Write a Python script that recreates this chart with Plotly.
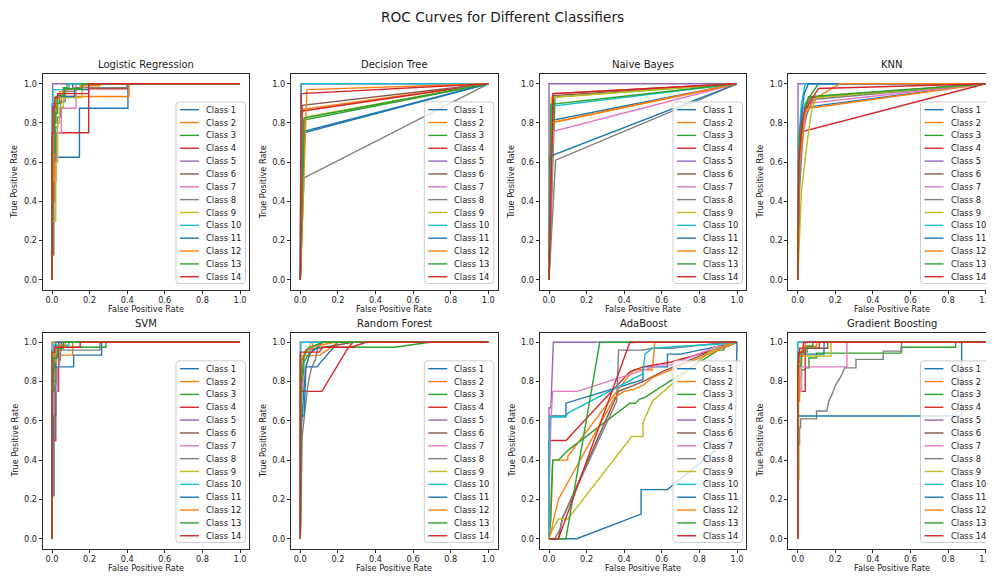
import plotly.graph_objects as go

# ---------------- data ----------------
CLASSIFIERS = ["Logistic Regression", "Decision Tree", "Naive Bayes", "KNN",
               "SVM", "Random Forest", "AdaBoost", "Gradient Boosting"]
CLASS_LABELS = [f"Class {i}" for i in range(1, 15)]
TICK_VALUES = [0.0, 0.2, 0.4, 0.6, 0.8, 1.0]
TICK_LABELS = ["0.0", "0.2", "0.4", "0.6", "0.8", "1.0"]

lr_fpr = [
    [0, 0, 0.005, 0.005, 0.146, 0.146, 0.404, 0.404, 1],
    [0, 0, 0.01, 0.01, 0.02, 0.02, 0.05, 0.05, 0.41, 0.41, 1],
    [0, 0, 0.01, 0.01, 0.02, 0.02, 0.04, 0.04, 0.06, 0.06, 0.08, 0.08, 1],
    [0, 0, 0.005, 0.005, 0.02, 0.02, 0.195, 0.195, 0.4, 0.4, 1],
    [0, 0, 0.003, 0.003, 1],
    [0, 0, 0.01, 0.01, 0.02, 0.02, 0.04, 0.04, 0.07, 0.07, 0.11, 0.11, 1],
    [0, 0, 0.02, 0.02, 0.05, 0.05, 0.128, 0.128, 1],
    [0, 0, 0.01, 0.01, 0.015, 0.015, 0.02, 0.02, 0.03, 0.03, 0.045, 0.045, 0.07, 0.07, 0.12, 0.12, 0.4, 0.4, 1],
    [0, 0, 0.02, 0.02, 0.03, 0.03, 0.04, 0.04, 0.06, 0.06, 0.16, 0.16, 1],
    [0, 0, 0.005, 0.005, 0.09, 0.09, 1],
    [0, 0, 0.01, 0.01, 0.02, 0.02, 0.12, 0.12, 0.195, 0.195, 1],
    [0, 0, 0.01, 0.01, 0.02, 0.02, 0.04, 0.04, 0.08, 0.08, 0.15, 0.15, 0.255, 0.255, 1],
    [0, 0, 0.015, 0.015, 0.03, 0.03, 0.065, 0.065, 0.16, 0.16, 1],
    [0, 0, 0.005, 0.005, 0.015, 0.015, 0.03, 0.03, 0.195, 0.195, 1],
]
lr_tpr = [
    [0, 0.125, 0.125, 0.625, 0.625, 0.875, 0.875, 1, 1],
    [0, 0.4, 0.4, 0.8, 0.8, 0.9, 0.9, 0.935, 0.935, 1, 1],
    [0, 0.6, 0.6, 0.8, 0.8, 0.9, 0.9, 0.95, 0.95, 0.98, 0.98, 1, 1],
    [0, 0.125, 0.125, 0.5, 0.5, 0.75, 0.75, 0.975, 0.975, 1, 1],
    [0, 0.875, 0.875, 1, 1],
    [0, 0.7, 0.7, 0.87, 0.87, 0.93, 0.93, 0.95, 0.95, 0.97, 0.97, 1, 1],
    [0, 0.625, 0.625, 0.75, 0.75, 0.875, 0.875, 1, 1],
    [0, 0.13, 0.13, 0.4, 0.4, 0.6, 0.6, 0.78, 0.78, 0.83, 0.83, 0.91, 0.91, 0.96, 0.96, 0.98, 0.98, 1, 1],
    [0, 0.3, 0.3, 0.6, 0.6, 0.8, 0.8, 0.88, 0.88, 0.93, 0.93, 1, 1],
    [0, 0.9, 0.9, 0.97, 0.97, 1, 1],
    [0, 0.6, 0.6, 0.9, 0.9, 0.935, 0.935, 0.97, 0.97, 1, 1],
    [0, 0.5, 0.5, 0.85, 0.85, 0.93, 0.93, 0.96, 0.96, 0.975, 0.975, 0.99, 0.99, 1, 1],
    [0, 0.65, 0.65, 0.85, 0.85, 0.94, 0.94, 0.975, 0.975, 1, 1],
    [0, 0.75, 0.75, 0.88, 0.88, 0.93, 0.93, 0.95, 0.95, 1, 1],
]

# Decision Tree / Naive Bayes: single operating point per class
dt_fpr_mid = [0.018, 0.012, 0.018, 0.005, 0.003, 0.01, 0.004, 0.02, 0.027, 0.005, 0.02, 0.035, 0.02, 0.005]
dt_tpr_mid = [0.75, 0.87, 0.815, 0.86, 1.0, 0.89, 1.0, 0.52, 0.83, 1.0, 0.757, 0.97, 0.825, 0.95]
nb_fpr_mid = [0.023, 0.023, 0.032, 0.023, 0.0, 0.02, 0.023, 0.035, 0.012, 0.01, 0.005, 0.01, 0.01, 0.022]
nb_tpr_mid = [0.815, 0.805, 0.932, 0.95, 1.0, 0.94, 0.757, 0.61, 0.93, 0.885, 0.63, 0.80, 0.895, 0.95]

knn_fpr = [
    [0, 0.005, 0.021, 0.12, 1],
    [0, 0.01, 0.04, 0.1, 1],
    [0, 0.01, 0.04, 0.11, 1],
    [0, 0.005, 0.03, 1],
    [0, 0.002, 1],
    [0, 0.01, 0.04, 0.07, 1],
    [0, 0.005, 0.03, 0.06, 1],
    [0, 0.01, 0.03, 0.08, 1],
    [0, 0.02, 0.05, 0.075, 0.1, 1],
    [0, 0.005, 0.02, 0.04, 1],
    [0, 0.01, 0.035, 0.057, 1],
    [0, 0.01, 0.04, 0.1, 0.225, 1],
    [0, 0.01, 0.057, 1],
    [0, 0.005, 0.03, 0.11, 1],
]
knn_tpr = [
    [0, 0.5, 0.875, 0.89, 1],
    [0, 0.6, 0.875, 0.88, 1],
    [0, 0.7, 0.9, 1, 1],
    [0, 0.5, 0.757, 1],
    [0, 1, 1],
    [0, 0.7, 0.88, 0.93, 1],
    [0, 0.5, 0.75, 0.9, 1],
    [0, 0.45, 0.8, 0.92, 1],
    [0, 0.45, 0.7, 0.87, 0.93, 1],
    [0, 0.7, 0.9, 1, 1],
    [0, 0.75, 0.95, 1, 1],
    [0, 0.6, 0.85, 0.93, 1, 1],
    [0, 0.75, 0.934, 1],
    [0, 0.6, 0.85, 0.976, 1],
]

svm_fpr = [
    [0, 0, 0.01, 0.01, 0.02, 0.02, 0.115, 0.115, 0.264, 0.264, 1],
    [0, 0, 0.01, 0.01, 0.11, 0.11, 1],
    [0, 0, 0.01, 0.01, 0.02, 0.02, 0.287, 0.287, 1],
    [0, 0, 0.02, 0.02, 0.035, 0.035, 1],
    [0, 0, 1],
    [0, 0, 0.02, 0.02, 0.04, 0.04, 0.05, 0.05, 1],
    [0, 0, 0.03, 0.03, 0.04, 0.04, 1],
    [0, 0, 0.01, 0.01, 0.015, 0.015, 0.02, 0.02, 0.035, 0.035, 0.045, 0.045, 0.255, 0.255, 1],
    [0, 0, 0.005, 0.005, 0.01, 0.01, 1],
    [0, 0, 0.01, 0.01, 0.09, 0.09, 1],
    [0, 0, 0.005, 0.005, 0.02, 0.02, 1],
    [0, 0, 0.02, 0.02, 0.04, 0.04, 0.07, 0.07, 1],
    [0, 0, 0.01, 0.01, 0.03, 0.03, 0.06, 0.06, 1],
    [0, 0, 0.015, 0.015, 0.15, 0.15, 1],
]
svm_tpr = [
    [0, 0.22, 0.22, 0.625, 0.625, 0.875, 0.875, 0.935, 0.935, 1, 1],
    [0, 0.8, 0.8, 0.935, 0.935, 1, 1],
    [0, 0.85, 0.85, 0.95, 0.95, 0.975, 0.975, 1, 1],
    [0, 0.5, 0.5, 0.75, 0.75, 1, 1],
    [0, 1, 1],
    [0, 0.8, 0.8, 0.93, 0.93, 0.96, 0.96, 1, 1],
    [0, 0.75, 0.75, 0.875, 0.875, 1, 1],
    [0, 0.22, 0.22, 0.52, 0.52, 0.78, 0.78, 0.87, 0.87, 0.91, 0.91, 0.96, 0.96, 1, 1],
    [0, 0.9, 0.9, 0.96, 0.96, 1, 1],
    [0, 0.96, 0.96, 0.985, 0.985, 1, 1],
    [0, 0.5, 0.5, 0.875, 0.875, 1, 1],
    [0, 0.9, 0.9, 0.97, 0.97, 0.985, 0.985, 1, 1],
    [0, 0.75, 0.75, 0.92, 0.92, 0.97, 0.97, 1, 1],
    [0, 0.95, 0.95, 0.975, 0.975, 1, 1],
]

rf_fpr = [
    [0, 0, 0.01, 0.027, 0.088, 0.2, 1],
    [0, 0, 0.106, 0.2, 1],
    [0, 0.005, 0.02, 0.05, 0.1, 0.5, 0.69, 1],
    [0, 0, 0.115, 0.25, 0.28, 1],
    [0, 0, 1],
    [0, 0.005, 0.03, 0.1, 0.28, 1],
    [0, 0.005, 0.03, 0.05, 0.07, 1],
    [0, 0.005, 0.01, 0.02, 0.03, 0.04, 0.05, 0.06, 0.08, 0.09, 0.1, 1],
    [0, 0.005, 0.02, 0.04, 0.06, 1],
    [0, 0.003, 1],
    [0, 0.005, 0.02, 0.03, 0.05, 0.12, 1],
    [0, 0, 0.03, 0.08, 0.18, 1],
    [0, 0.005, 0.02, 0.04, 0.12, 1],
    [0, 0, 0.1, 0.12, 0.27, 0.35, 1],
]
rf_tpr = [
    [0, 0.5, 0.625, 0.875, 0.875, 1, 1],
    [0, 0.93, 0.935, 1, 1],
    [0, 0.7, 0.9, 0.95, 0.975, 0.975, 1, 1],
    [0, 0.75, 0.75, 0.965, 1, 1],
    [0, 1, 1],
    [0, 0.9, 0.96, 0.97, 1, 1],
    [0, 0.75, 0.875, 0.94, 1, 1],
    [0, 0.26, 0.52, 0.61, 0.7, 0.78, 0.83, 0.87, 0.91, 0.96, 1, 1],
    [0, 0.8, 0.93, 0.96, 1, 1],
    [0, 1, 1],
    [0, 0.625, 0.625, 0.875, 0.94, 1, 1],
    [0, 0.9, 0.96, 0.98, 1, 1],
    [0, 0.8, 0.93, 0.97, 1, 1],
    [0, 0.95, 0.95, 0.975, 0.975, 1, 1],
]

ada_fpr = [
    [0, 0.005, 0.09, 0.09, 0.5, 0.5, 0.63, 0.63, 0.7, 1],
    [0, 0.02, 0.1, 0.1, 0.4, 0.45, 0.55, 0.563, 1],
    [0, 0.01, 0.02, 0.05, 0.08, 0.1, 0.43, 0.46, 0.48, 0.51, 0.9, 0.93, 0.93, 0.96, 1],
    [0, 0, 0.09, 0.43, 0.5, 0.65, 0.95, 1],
    [0, 0, 0.01, 0.023, 1],
    [0, 0.05, 0.07, 0.37, 0.5, 0.6, 0.9, 1],
    [0, 0, 0.01, 0.02, 0.15, 0.59, 0.65, 0.95, 1],
    [0, 0.03, 0.06, 0.07, 0.36, 0.37, 0.5, 0.55, 0.65, 0.95, 1],
    [0, 0.01, 0.05, 0.1, 0.44, 0.5, 0.5, 0.55, 0.85, 1],
    [0, 0, 0.005, 0.09, 0.1, 0.5, 0.51, 0.55, 0.7, 0.9, 1],
    [0, 0.147, 0.49, 0.49, 0.63, 0.99, 1],
    [0, 0.01, 0.03, 0.05, 0.35, 0.4, 0.45, 0.5, 0.55, 0.65, 0.9, 0.96, 1],
    [0, 0.09, 0.27, 1],
    [0, 0.05, 0.43, 1],
]
ada_tpr = [
    [0, 0.625, 0.625, 0.69, 0.81, 0.875, 0.875, 0.94, 0.94, 1],
    [0, 0.4, 0.4, 0.42, 0.8, 0.86, 0.86, 1, 1],
    [0, 0.1, 0.4, 0.4, 0.43, 0.45, 0.69, 0.69, 0.71, 0.72, 0.96, 0.96, 0.97, 1, 1],
    [0, 0.5, 0.5, 0.85, 0.875, 0.9, 0.98, 1],
    [0, 0.667, 0.667, 1, 1],
    [0, 0, 0.1, 0.75, 0.8, 0.85, 0.97, 1],
    [0, 0.25, 0.6, 0.75, 0.75, 0.885, 0.885, 1, 1],
    [0, 0, 0.05, 0.1, 0.7, 0.96, 0.96, 0.97, 0.97, 1, 1],
    [0, 0.03, 0.1, 0.1, 0.52, 0.52, 0.59, 0.7, 0.95, 1],
    [0, 0.35, 0.62, 0.62, 0.64, 0.84, 0.94, 0.97, 0.98, 0.99, 1],
    [0, 0, 0.125, 0.25, 0.25, 0.53, 1],
    [0, 0.03, 0.12, 0.2, 0.72, 0.75, 0.76, 0.78, 0.82, 0.86, 0.96, 1, 1],
    [0, 0, 1, 1],
    [0, 0, 1, 1],
]

gb_fpr = [
    [0, 0, 0.01, 0.01, 0.14, 0.14, 1],
    [0, 0, 0.02, 0.02, 0.04, 0.04, 1],
    [0, 0, 0.01, 0.01, 0.02, 0.02, 0.04, 0.04, 0.06, 0.06, 0.1, 0.1, 0.55, 0.55, 0.84, 0.84, 1],
    [0, 0, 0.04, 0.04, 0.115, 0.115, 1],
    [0, 0, 1],
    [0, 0, 0.01, 0.01, 0.16, 0.16, 1],
    [0, 0, 0.02, 0.02, 0.262, 0.262, 1],
    [0, 0, 0.005, 0.005, 0.01, 0.01, 0.015, 0.015, 0.1, 0.1, 0.155, 0.165, 0.185, 0.2, 0.23, 0.25,
     0.31, 0.31, 0.455, 0.455, 0.553, 0.553, 1],
    [0, 0, 0.005, 0.005, 0.01, 0.01, 0.02, 0.02, 0.177, 0.177, 1],
    [0, 0, 1],
    [0, 0, 0.872, 0.872, 1],
    [0, 0, 0.01, 0.01, 0.03, 0.03, 0.1, 0.1, 1],
    [0, 0, 0.02, 0.02, 0.05, 0.05, 0.08, 0.08, 1],
    [0, 0, 0.005, 0.005, 0.03, 0.03, 1],
]
gb_tpr = [
    [0, 0.875, 0.875, 0.94, 0.94, 1, 1],
    [0, 0.9, 0.9, 0.96, 0.96, 1, 1],
    [0, 0.74, 0.74, 0.82, 0.82, 0.86, 0.86, 0.87, 0.87, 0.92, 0.92, 0.945, 0.945, 0.975, 0.975, 1, 1],
    [0, 0.75, 0.75, 0.97, 0.97, 1, 1],
    [0, 1, 1],
    [0, 0.85, 0.85, 0.97, 0.97, 1, 1],
    [0, 0.75, 0.75, 0.875, 0.875, 1, 1],
    [0, 0.3, 0.3, 0.48, 0.48, 0.565, 0.565, 0.61, 0.61, 0.65, 0.65, 0.7, 0.74, 0.78, 0.826, 0.87,
     0.87, 0.913, 0.913, 0.955, 0.955, 1, 1],
    [0, 0.3, 0.3, 0.8, 0.8, 0.9, 0.9, 0.93, 0.93, 1, 1],
    [0, 1, 1],
    [0, 0.625, 0.625, 1, 1],
    [0, 0.7, 0.7, 0.93, 0.93, 0.98, 0.98, 1, 1],
    [0, 0.88, 0.88, 0.95, 0.95, 0.98, 0.98, 1, 1],
    [0, 0.9, 0.9, 0.95, 0.95, 1, 1],
]

# ---------------- build curve table ----------------
dt_fpr = [[0, f, 1] for f in dt_fpr_mid]
dt_tpr = [[0, t, 1] for t in dt_tpr_mid]
nb_fpr = [[0, f, 1] for f in nb_fpr_mid]
nb_tpr = [[0, t, 1] for t in nb_tpr_mid]

CURVES = [
    (lr_fpr, lr_tpr), (dt_fpr, dt_tpr), (nb_fpr, nb_tpr), (knn_fpr, knn_tpr),
    (svm_fpr, svm_tpr), (rf_fpr, rf_tpr), (ada_fpr, ada_tpr), (gb_fpr, gb_tpr),
]

TAB10 = ["#1f77b4", "#ff7f0e", "#2ca02c", "#d62728", "#9467bd",
         "#8c564b", "#e377c2", "#7f7f7f", "#bcbd22", "#17becf"]

# ---------------- layout geometry (pixels of the 994x576 window) ----------------
VIEW_W, VIEW_H = 994, 576
OFFSET = 8                     # page body margin around the plot div
W, H = VIEW_W - OFFSET, VIEW_H - OFFSET
UNIT_X = 188.0
COL_X0 = [52.0, 300.3, 549.0, 797.7]        # window pixel of fpr = 0 in each column
ROWS = [(74.0, 289.5), (332.5, 548.5)]       # frame top / bottom per row
FONT = "DejaVu Sans"
TEXT_COLOR = "#1a1a1a"
AX_COLOR = "#2b2b2b"
LINE_W = 1.4


def px(x):
    return (x - OFFSET) / W


def py(y):
    return 1 - (y - OFFSET) / H


def rounded_rect(l, t, r, b, rad):
    return (f"M {px(l + rad)},{py(t)} L {px(r - rad)},{py(t)} "
            f"Q {px(r)},{py(t)} {px(r)},{py(t + rad)} L {px(r)},{py(b - rad)} "
            f"Q {px(r)},{py(b)} {px(r - rad)},{py(b)} L {px(l + rad)},{py(b)} "
            f"Q {px(l)},{py(b)} {px(l)},{py(b - rad)} L {px(l)},{py(t + rad)} "
            f"Q {px(l)},{py(t)} {px(l + rad)},{py(t)} Z")


fig = go.Figure()
annotations = []
shapes = []
layout_axes = {}

for k, name in enumerate(CLASSIFIERS):
    r, c = divmod(k, 4)
    x0 = COL_X0[c]
    left = x0 - 0.05 * UNIT_X
    right = min(VIEW_W - 0.5, x0 + 1.05 * UNIT_X)
    top, bottom = ROWS[r]
    n = k + 1
    xname = "x" if n == 1 else f"x{n}"
    yname = "y" if n == 1 else f"y{n}"
    xkey = "xaxis" if n == 1 else f"xaxis{n}"
    ykey = "yaxis" if n == 1 else f"yaxis{n}"

    common = dict(
        showgrid=False, zeroline=False, showline=True, mirror=True,
        linecolor=AX_COLOR, linewidth=1, ticks="outside", ticklen=3,
        tickwidth=1, tickcolor=AX_COLOR, tickvals=TICK_VALUES, ticktext=TICK_LABELS,
        tickfont=dict(family=FONT, size=8.2, color=TEXT_COLOR), fixedrange=True,
    )
    layout_axes[xkey] = dict(common, domain=[px(left), min(1.0, px(right))],
                             range=[-0.05, (right - x0) / UNIT_X], anchor=yname)
    layout_axes[ykey] = dict(common, domain=[py(bottom), py(top)],
                             range=[-0.05, 1.05], anchor=xname)

    fprs, tprs = CURVES[k]
    for i in range(14):
        fig.add_trace(go.Scatter(
            x=fprs[i], y=tprs[i], mode="lines", name=CLASS_LABELS[i],
            line=dict(color=TAB10[i % 10], width=LINE_W),
            xaxis=xname, yaxis=yname, showlegend=False, hoverinfo="skip",
        ))

    cx = x0 + 0.5 * UNIT_X
    # subplot title
    annotations.append(dict(text=name, x=px(cx), y=py(top - 9.5), xref="paper", yref="paper",
                            xanchor="center", yanchor="middle", showarrow=False,
                            font=dict(family=FONT, size=10, color=TEXT_COLOR)))
    # axis titles
    annotations.append(dict(text="False Positive Rate", x=px(cx), y=py(bottom + 19.5),
                            xref="paper", yref="paper", xanchor="center", yanchor="middle",
                            showarrow=False, font=dict(family=FONT, size=8.2, color=TEXT_COLOR)))
    annotations.append(dict(text="True Positive Rate", x=px(left - 28.5), y=py((top + bottom) / 2),
                            xref="paper", yref="paper", xanchor="center", yanchor="middle",
                            textangle=-90, showarrow=False,
                            font=dict(family=FONT, size=8.2, color=TEXT_COLOR)))

    # legend (lower right, matplotlib style)
    lg_r = min(x0 + 193.5, VIEW_W - 4)
    lg_l = lg_r - 69.5
    lg_b = bottom - 6.0
    lg_t = lg_b - 181.6
    shapes.append(dict(type="path", path=rounded_rect(lg_l, lg_t, lg_r, lg_b, 3),
                       xref="paper", yref="paper", fillcolor="rgba(255,255,255,0.8)",
                       line=dict(color="#cccccc", width=1), layer="above"))
    for i in range(14):
        cy = lg_t + 7.8 + i * 12.85
        shapes.append(dict(type="line", x0=px(lg_l + 4), x1=px(lg_l + 23), y0=py(cy), y1=py(cy),
                           xref="paper", yref="paper", layer="above",
                           line=dict(color=TAB10[i % 10], width=LINE_W)))
        annotations.append(dict(text=CLASS_LABELS[i], x=px(lg_l + 28), y=py(cy),
                                xref="paper", yref="paper", xanchor="left", yanchor="middle",
                                showarrow=False,
                                font=dict(family=FONT, size=8.4, color=TEXT_COLOR)))

# figure title
annotations.append(dict(text="ROC Curves for Different Classifiers", x=px(503), y=py(17),
                        xref="paper", yref="paper", xanchor="center", yanchor="middle",
                        showarrow=False, font=dict(family=FONT, size=13.7, color=TEXT_COLOR)))

fig.update_layout(
    width=W, height=H, margin=dict(l=0, r=0, t=0, b=0),
    paper_bgcolor="white", plot_bgcolor="white", showlegend=False,
    font=dict(family=FONT, color=TEXT_COLOR),
    annotations=annotations, shapes=shapes, **layout_axes,
)

fig.write_html("out.html")
